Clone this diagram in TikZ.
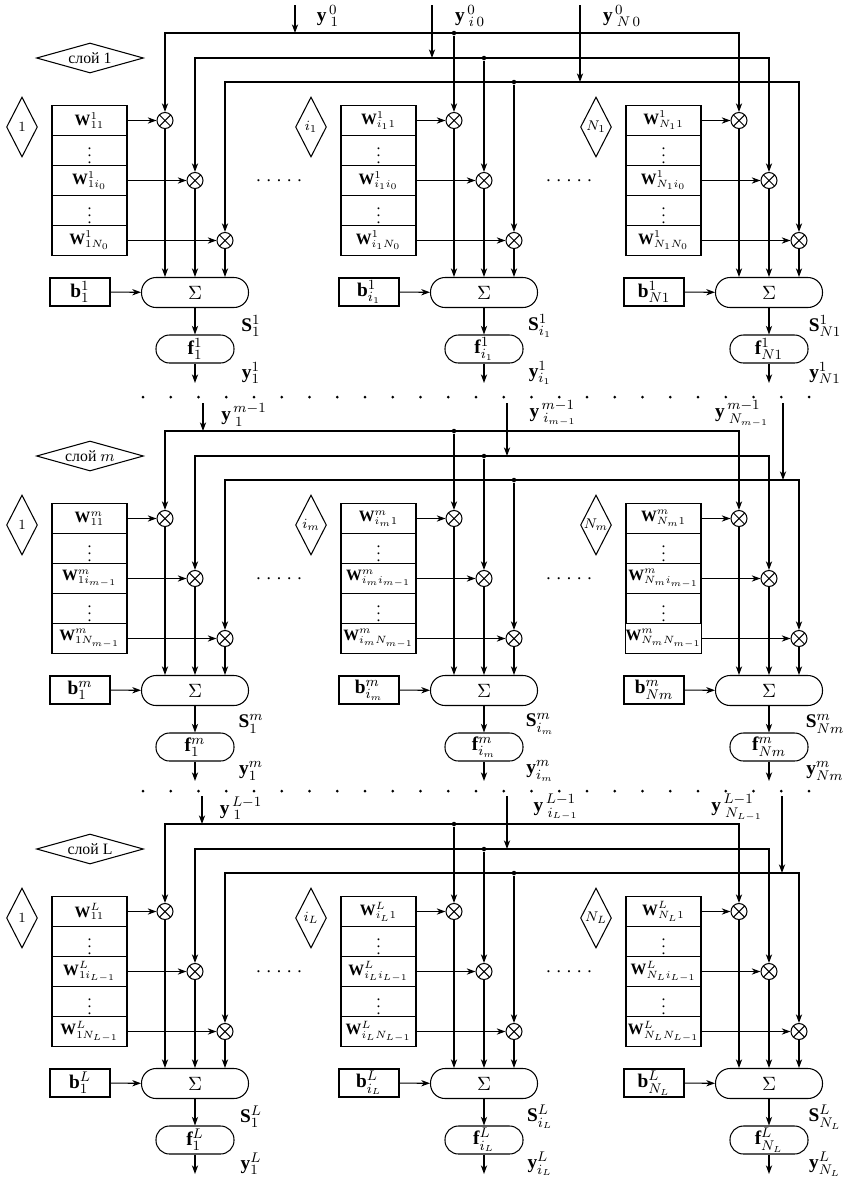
\documentclass[tikz,border=0pt]{standalone}
\usepackage{fontspec}
\setmainfont{Liberation Serif}
\usepackage{amsmath}
\usetikzlibrary{arrows.meta,shapes.geometric}

\tikzset{
  wbox/.style={draw,minimum width=1.5cm,minimum height=0.6cm,inner sep=0pt,font=\fontsize{9}{11}\selectfont},
  bbox/.style={draw,minimum width=1.2cm,minimum height=0.56cm,inner sep=0pt},
  mult/.style={circle,draw,minimum size=0.32cm,inner sep=0pt,
    path picture={\draw (path picture bounding box.center) +(45:0.16cm) -- +(225:0.16cm)
      (path picture bounding box.center) +(135:0.16cm) -- +(-45:0.16cm);}},
  sumbox/.style={draw,rounded corners=0.29cm,minimum width=2.14cm,minimum height=0.6cm,inner sep=0pt},
  actbox/.style={draw,rounded corners=0.27cm,minimum width=1.56cm,minimum height=0.56cm,inner sep=0pt},
  idx/.style={draw,diamond,aspect=0.5,minimum width=0.62cm,minimum height=1.2cm,inner sep=0pt,font=\footnotesize},
  layertag/.style={draw,diamond,aspect=3.5,minimum width=2.14cm,minimum height=0.6cm,inner sep=0pt,font=\small},
  junc/.style={circle,fill,inner sep=0pt,minimum size=0.09cm},
  lab/.style={inner sep=0pt},
}

\begin{document}
\begin{tikzpicture}[x=0.02cm,y=-0.02cm,>={Stealth[length=5pt,width=3.6pt]},line width=0.6pt,
  every node/.append style={font=\fontsize{11}{13}\selectfont}]
\useasboundingbox (0,0) rectangle (854,1177);
% three layers, three neurons each
\foreach \ly/\n/\s/\cl/\cN/\oN/\pvi/\pvN/\tg in
  {0/a/1/{i_1}/{N_1}/{N1}/{i_0}/{N_0}/{1},
   398/b/m/{i_m}/{N_m}/{Nm}/{i_{m-1}}/{N_{m-1}}/{$m$},
   791/c/L/{i_L}/{N_L}/{N_L}/{i_{L-1}}/{N_{L-1}}/{L}} {
  \begin{scope}[shift={(0,\ly)}]
  \node[layertag] (tag\n) at (90,58) {слой \tg};
  \foreach \cx/\cc/\oc/\col in {0/1/1/1,289/\cl/\cl/2,574/\cN/\oN/3} {
    \begin{scope}[shift={(\cx,0)}]
    \node[idx] (d\n\col) at (22,127) {$\cc$};
    \node[wbox] (w\n\col1) at (89.5,120.5) {$\mathbf{W}^{\s}_{\cc 1}$};
    \node[wbox] (w\n\col2) at (89.5,150.5) {$\vdots$};
    \node[wbox] (w\n\col3) at (89.5,180.5) {$\mathbf{W}^{\s}_{\cc\pvi}$};
    \node[wbox] (w\n\col4) at (89.5,210.5) {$\vdots$};
    \node[wbox] (w\n\col5) at (89.5,240.5) {$\mathbf{W}^{\s}_{\cc\pvN}$};
    \node[mult] (m\n\col1) at (165,120.5) {};
    \node[mult] (m\n\col2) at (195,180.5) {};
    \node[mult] (m\n\col3) at (225,240.5) {};
    \node[sumbox] (s\n\col) at (195,292.5) {$\Sigma$};
    \node[bbox] (b\n\col) at (80,292) {$\mathbf{b}^{\s}_{\oc}$};
    \node[actbox] (f\n\col) at (195,349) {$\mathbf{f}^{\s}_{\oc}$};
    \coordinate (o\n\col) at (195,383);
    \node[lab] at (251,326) {$\mathbf{S}^{\s}_{\oc}$};
    \node[lab] at (251,373) {$\mathbf{y}^{\s}_{\oc}$};
    \draw[->] (w\n\col1) -- (m\n\col1);
    \draw[->] (w\n\col3) -- (m\n\col2);
    \draw[->] (w\n\col5) -- (m\n\col3);
    \foreach \jj in {1,2,3} \draw[->] (m\n\col\jj) -- (m\n\col\jj |- s\n\col.north);
    \draw[->] (b\n\col) -- (s\n\col);
    \draw[->] (s\n\col) -- (f\n\col);
    \draw[->] (f\n\col) -- (o\n\col);
    \end{scope}
  }
  % buses from the previous layer
  \foreach \jj/\by in {1/33,2/58,3/82} {
    \coordinate (r\n\jj) at (m\n3\jj |- 0,\by);
    \draw[<->] (m\n1\jj) |- (r\n\jj) -- (m\n3\jj);
    \node[junc] (j\n\jj) at (m\n2\jj |- r\n\jj) {};
    \draw[->] (j\n\jj) -- (m\n2\jj);
  }
  \node[lab,font=\fontsize{10}{12}\selectfont] at (279,181) {. . . . .};
  \node[lab,font=\fontsize{10}{12}\selectfont] at (569,181) {. . . . .};
  \end{scope}
}
% inputs of each layer
\foreach \ly/\n/\xa/\xb/\xc in {0/a/295/432/580,398/b/203/507/783,791/c/202/507/782} {
  \coordinate (ia\n) at (\xa,\ly+5);
  \coordinate (ib\n) at (\xb,\ly+5);
  \coordinate (ic\n) at (\xc,\ly+5);
  \draw[->] (ia\n) -- (ia\n |- r\n1);
  \draw[->] (ib\n) -- (ib\n |- r\n2);
  \draw[->] (ic\n) -- (ic\n |- r\n3);
}
\node[lab] at (328,16) {$\mathbf{y}^{\,0}_{\;1}$};
\node[lab] at (470,16) {$\mathbf{y}^{\,0}_{\;i\,0}$};
\node[lab] at (622,16) {$\mathbf{y}^{\,0}_{\;N\,0}$};
\node[lab] at (244,415) {$\mathbf{y}^{\,m-1}_{\;1}$};
\node[lab] at (553,413) {$\mathbf{y}^{\,m-1}_{\;i_{m-1}}$};
\node[lab] at (742,414) {$\mathbf{y}^{\,m-1}_{\;N_{m-1}}$};
\node[lab] at (241,808) {$\mathbf{y}^{\,L-1}_{\;1}$};
\node[lab] at (556,807) {$\mathbf{y}^{\,L-1}_{\;i_{L-1}}$};
\node[lab] at (737,807) {$\mathbf{y}^{\,L-1}_{\;N_{L-1}}$};
% dotted separators between layers
\foreach \yy in {397,791}
  \foreach \i in {0,...,24}
    \fill (143+27.75*\i,\yy) circle (0.03cm);
\end{tikzpicture}
\end{document}
